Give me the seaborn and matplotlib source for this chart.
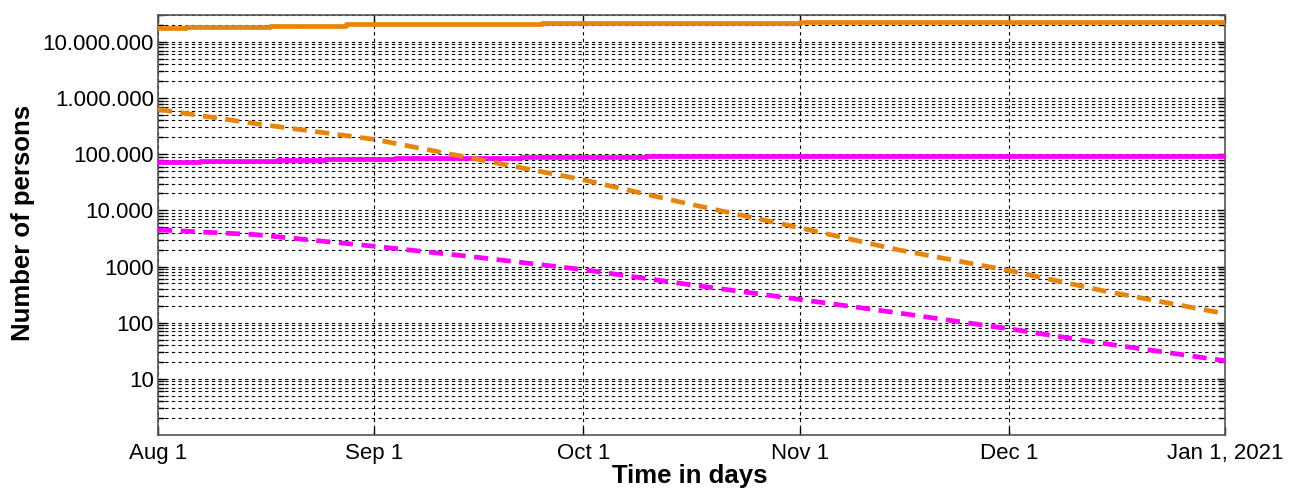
import numpy as np
import pandas as pd
import matplotlib
matplotlib.use("Agg")
import matplotlib.pyplot as plt
import matplotlib.dates as mdates
from matplotlib.ticker import FixedLocator, LogLocator, NullFormatter
import seaborn as sns

# values (year 2020)
solid_orange_dates = ["2020-08-01", "2020-08-05", "2020-08-17", "2020-08-28", "2020-09-10",
                      "2020-09-25", "2020-10-08", "2020-11-01", "2021-01-01"]
solid_orange_vals = [1.75e7, 1.85e7, 1.95e7, 2.05e7, 2.1e7, 2.15e7, 2.2e7, 2.22e7, 2.22e7]

dashed_orange_dates = ["2020-08-01", "2020-08-15", "2020-09-01", "2020-09-15", "2020-10-01",
                       "2020-10-15", "2020-11-01", "2020-11-15", "2020-12-01", "2020-12-15",
                       "2021-01-01"]
dashed_orange_vals = [6.3e5, 3.5e5, 1.84e5, 8.5e4, 3.5e4, 1.4e4, 4.9e3, 2.0e3, 850, 360, 145]

solid_magenta_dates = ["2020-08-01", "2020-08-07", "2020-08-18", "2020-08-25", "2020-09-04",
                       "2020-09-22", "2020-10-10", "2021-01-01"]
solid_magenta_vals = [7.3e4, 7.6e4, 8.0e4, 8.3e4, 8.7e4, 9.1e4, 9.3e4, 9.3e4]

dashed_magenta_dates = ["2020-08-01", "2020-08-15", "2020-09-01", "2020-09-15", "2020-10-01",
                        "2020-10-15", "2020-11-01", "2020-11-15", "2020-12-01", "2020-12-15",
                        "2021-01-01"]
dashed_magenta_vals = [4.5e3, 3.7e3, 2.3e3, 1.5e3, 880, 500, 260, 150, 78, 42, 21]

y_ticks = [10, 100, 1000, 1e4, 1e5, 1e6, 1e7]
y_tick_labels = ["10", "100", "1000", "10.000", "100.000", "1.000.000", "10.000.000"]
x_tick_dates = ["2020-08-01", "2020-09-01", "2020-10-01", "2020-11-01", "2020-12-01", "2021-01-01"]
x_tick_labels = ["Aug 1", "Sep 1", "Oct 1", "Nov 1", "Dec 1", "Jan 1, 2021"]

ORANGE = "#E6850E"
MAGENTA = "#FF00FF"

sns.set_style("ticks", {"text.color": "black", "axes.labelcolor": "black",
                        "xtick.color": "black", "ytick.color": "black"})
plt.rcParams["font.family"] = ["Liberation Sans", "DejaVu Sans"]

fig = plt.figure(figsize=(12.91, 4.88), dpi=100)
ax = fig.add_axes([0.1224, 0.1086, 0.8265, 0.8604])

series = [
    (solid_orange_dates, solid_orange_vals, ORANGE, "-", "steps-post"),
    (solid_magenta_dates, solid_magenta_vals, MAGENTA, "-", "steps-post"),
    (dashed_orange_dates, dashed_orange_vals, ORANGE, "--", "default"),
    (dashed_magenta_dates, dashed_magenta_vals, MAGENTA, "--", "default"),
]
for dates, vals, color, ls, ds in series:
    df = pd.DataFrame({"date": pd.to_datetime(dates), "value": vals})
    sns.lineplot(data=df, x="date", y="value", ax=ax, color=color,
                 linewidth=3.4, drawstyle=ds, zorder=3)
    if ls == "--":
        ax.lines[-1].set_dashes((3.0, 1.8))

ax.set_yscale("log")
ax.set_ylim(1, 3e7)
ax.set_xlim(pd.Timestamp("2020-08-01"), pd.Timestamp("2021-01-01"))

ax.yaxis.set_major_locator(FixedLocator(y_ticks))
ax.set_yticklabels(y_tick_labels)
ax.yaxis.set_minor_locator(LogLocator(base=10, subs=np.arange(2, 10), numticks=20))
ax.yaxis.set_minor_formatter(NullFormatter())

ax.set_xticks(mdates.date2num(pd.to_datetime(x_tick_dates)))
ax.set_xticklabels(x_tick_labels)

ax.grid(which="major", axis="both", color="black", linestyle=(0, (3, 3)), linewidth=0.8)
ax.grid(which="minor", axis="y", color="black", linestyle=(0, (3, 3)), linewidth=0.8)

ax.tick_params(which="both", direction="in", top=True, right=True, labelsize=16)
ax.tick_params(axis="y", pad=3)
ax.tick_params(axis="x", pad=6)
ax.tick_params(which="major", length=6, width=1)
ax.tick_params(which="minor", length=4, width=1)
for s in ax.spines.values():
    s.set_color("#555555")
    s.set_linewidth(1.2)

ax.set_xlabel("Time in days", fontsize=18.5, fontweight="bold", va="baseline")
ax.set_ylabel("Number of persons", fontsize=18.5, fontweight="bold", va="center")
ax.xaxis.set_label_coords(0.4985, -0.1135)
ax.yaxis.set_label_coords(-0.1265, 0.505)

fig.savefig("out.png", dpi=100)
